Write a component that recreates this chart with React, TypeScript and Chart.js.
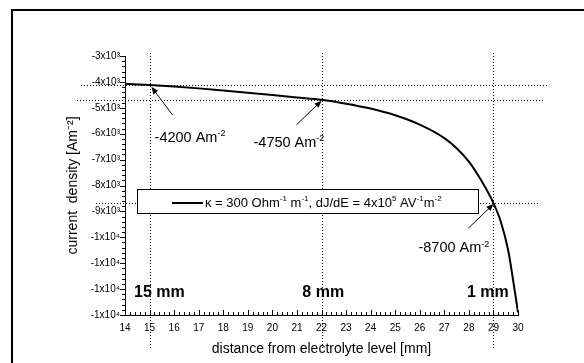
import React, { useEffect, useRef } from "react";
import { Chart, registerables } from "chart.js";

Chart.register(...registerables);

// ---- data ----
const distance = [14, 15, 16, 17, 18, 19, 20, 21, 22, 23, 24, 25, 26, 27, 27.5, 28, 28.5, 29, 29.3, 29.6, 29.8, 30];
const currentDensity = [-4070, -4120, -4180, -4250, -4330, -4420, -4510, -4600, -4690, -4840, -5030, -5290, -5650, -6170, -6560, -7080, -7800, -8680, -9400, -10500, -11650, -12900];

const xTickValues = [14, 15, 16, 17, 18, 19, 20, 21, 22, 23, 24, 25, 26, 27, 28, 29, 30];
const xTickLabels = ["14", "15", "16", "17", "18", "19", "20", "21", "22", "23", "24", "25", "26", "27", "28", "29", "30"];
const yTickValues = [-3000, -4000, -5000, -6000, -7000, -8000, -9000, -10000, -11000, -12000, -13000];
const yTickLabels = ["-3x10³", "-4x10³", "-5x10³", "-6x10³", "-7x10³", "-8x10³", "-9x10³", "-1x10⁴", "-1x10⁴", "-1x10⁴", "-1x10⁴"];

const markerX = [15, 22, 29];
const markerY = [-4120, -4690, -8680];
const markerLabels = ["-4200 Am", "-4750 Am", "-8700 Am"];
const markerSup = "-2";

const depthLabels = ["15 mm", "8 mm", "1 mm"];
const depthLabelX = [14.37, 21.22, 27.92];
const depthLabelY = -12100;

const xTitle = "distance from electrolyte level [mm]";
const yTitle = "current  density [Am⁻²]";
const seriesLabel = "κ = 300 Ohm⁻¹ m⁻¹, dJ/dE = 4x10⁵ AV⁻¹m⁻²";
const legendParts: [string, boolean][] = [
  ["κ = 300 Ohm", false],
  ["-1", true],
  [" m", false],
  ["-1", true],
  [", dJ/dE = 4x10", false],
  ["5", true],
  [" AV", false],
  ["-1", true],
  ["m", false],
  ["-2", true],
];

const FAMILY = '"Liberation Sans", Arial, Helvetica, sans-serif';

function drawRich(ctx: CanvasRenderingContext2D, parts: [string, boolean][], x: number, cy: number, size: number, bold = false) {
  let cx = x;
  const base = cy + size * 0.36;
  ctx.textAlign = "left";
  ctx.textBaseline = "alphabetic";
  for (const [t, sup] of parts) {
    const s = sup ? size * 0.62 : size;
    ctx.font = `${bold ? "bold " : ""}${s}px ${FAMILY}`;
    ctx.fillText(t, cx, sup ? base - size * 0.4 : base);
    cx += ctx.measureText(t).width;
  }
  return cx;
}

function drawArrow(ctx: CanvasRenderingContext2D, x1: number, y1: number, x2: number, y2: number) {
  ctx.save();
  ctx.strokeStyle = "#000";
  ctx.fillStyle = "#000";
  ctx.lineWidth = 1;
  ctx.setLineDash([]);
  const a = Math.atan2(y2 - y1, x2 - x1);
  const hl = 7, hw = 3;
  ctx.beginPath();
  ctx.moveTo(x1, y1);
  ctx.lineTo(x2 - Math.cos(a) * hl * 0.8, y2 - Math.sin(a) * hl * 0.8);
  ctx.stroke();
  ctx.beginPath();
  ctx.moveTo(x2, y2);
  ctx.lineTo(x2 - hl * Math.cos(a) + hw * Math.sin(a), y2 - hl * Math.sin(a) - hw * Math.cos(a));
  ctx.lineTo(x2 - hl * Math.cos(a) - hw * Math.sin(a), y2 - hl * Math.sin(a) + hw * Math.cos(a));
  ctx.closePath();
  ctx.fill();
  ctx.restore();
}

const decorPlugin = {
  id: "decor",
  beforeDatasetsDraw(chart: any) {
    const ctx: CanvasRenderingContext2D = chart.ctx;
    const xs = chart.scales.x;
    const ys = chart.scales.y;
    const area = chart.chartArea;
    ctx.save();
    // outer frame
    ctx.strokeStyle = "#000";
    ctx.lineWidth = 2;
    ctx.strokeRect(12, 10, 900, 900);

    // dotted guide lines
    ctx.lineWidth = 1;
    ctx.setLineDash([1, 2]);
    ctx.strokeStyle = "#000";
    markerX.forEach((v) => {
      const px = Math.round(xs.getPixelForValue(v)) + 0.5;
      ctx.beginPath();
      ctx.moveTo(px, area.top - 3);
      ctx.lineTo(px, area.bottom + 33);
      ctx.stroke();
    });
    const hExt: [number, number][] = [[81, 548], [77, 544], [96, 538]];
    markerY.forEach((v, i) => {
      const py = Math.round(ys.getPixelForValue(v)) + 0.5;
      ctx.beginPath();
      ctx.moveTo(hExt[i][0], py);
      ctx.lineTo(hExt[i][1], py);
      ctx.stroke();
    });
    ctx.restore();
  },
  afterDatasetsDraw(chart: any) {
    const ctx: CanvasRenderingContext2D = chart.ctx;
    const xs = chart.scales.x;
    const ys = chart.scales.y;
    const area = chart.chartArea;
    ctx.save();
    ctx.setLineDash([]);
    ctx.strokeStyle = "#000";
    ctx.fillStyle = "#000";
    ctx.lineWidth = 1;

    // minor + major ticks on x (inward)
    for (let i = 0; i <= 80; i++) {
      const v = 14 + i * 0.2;
      const px = Math.round(xs.getPixelForValue(v)) + 0.5;
      const len = i % 5 === 0 ? 5 : 3;
      ctx.beginPath();
      ctx.moveTo(px, area.bottom);
      ctx.lineTo(px, area.bottom - len);
      ctx.stroke();
    }
    // y ticks (outward)
    for (let i = 0; i <= 50; i++) {
      const v = -13000 + i * 200;
      const py = Math.round(ys.getPixelForValue(v)) + 0.5;
      const len = i % 5 === 0 ? 5 : 3;
      ctx.beginPath();
      ctx.moveTo(area.left, py);
      ctx.lineTo(area.left - len, py);
      ctx.stroke();
    }

    // legend box
    const bx = 137.5, by = 189.5, bw = 341, bh = 24;
    ctx.fillStyle = "#fff";
    ctx.fillRect(bx, by, bw, bh);
    ctx.strokeStyle = "#000";
    ctx.lineWidth = 1;
    ctx.strokeRect(bx, by, bw, bh);
    const ds = chart.data.datasets[0];
    ctx.strokeStyle = ds.borderColor;
    ctx.lineWidth = ds.borderWidth;
    ctx.beginPath();
    ctx.moveTo(172, 203);
    ctx.lineTo(203, 203);
    ctx.stroke();
    ctx.fillStyle = "#000";
    drawRich(ctx, legendParts, 205, 202, 13);

    // marker annotations
    const textOff: [number, number][] = [[5, 52], [-68, 42], [-75, 44]];
    const tailOff: [number, number][] = [[23, 30], [-25, 25], [-25, 25]];
    const tipOff: [number, number][] = [[2, 2], [0, 1], [0, 1]];
    markerX.forEach((v, i) => {
      const px = xs.getPixelForValue(v);
      const py = ys.getPixelForValue(markerY[i]);
      ctx.fillStyle = "#000";
      drawRich(ctx, [[markerLabels[i], false], [markerSup, true]], px + textOff[i][0], py + textOff[i][1], 14.5);
      drawArrow(ctx, px + tailOff[i][0], py + tailOff[i][1], px + tipOff[i][0], py + tipOff[i][1]);
    });

    // depth labels
    depthLabels.forEach((t, i) => {
      const px = xs.getPixelForValue(depthLabelX[i]);
      const py = ys.getPixelForValue(depthLabelY);
      ctx.fillStyle = "#000";
      drawRich(ctx, [[t, false]], px, py, 16, true);
    });
    ctx.restore();
  },
};

export default function App() {
  const ref = useRef<HTMLCanvasElement | null>(null);
  useEffect(() => {
    if (!ref.current) return;
    const chart = new Chart(ref.current, {
      type: "line",
      data: {
        datasets: [
          {
            label: seriesLabel,
            data: distance.map((x, i) => ({ x, y: currentDensity[i] })),
            borderColor: "#000",
            borderWidth: 2,
            pointRadius: 0,
            fill: false,
            cubicInterpolationMode: "monotone",
          },
        ],
      },
      options: {
        responsive: false,
        animation: false,
        devicePixelRatio: 1,
        layout: { padding: { top: 56, right: 66, bottom: 0, left: 0 } },
        plugins: { legend: { display: false }, tooltip: { enabled: false } },
        scales: {
          x: {
            type: "linear",
            min: 14,
            max: 30,
            afterFit: (s: any) => {
              s.height = 48;
            },
            afterBuildTicks: (s: any) => {
              s.ticks = xTickValues.map((v) => ({ value: v }));
            },
            grid: { display: false, drawTicks: false },
            border: { display: true, color: "#000", width: 1 },
            ticks: {
              padding: 7,
              color: "#000",
              maxRotation: 0,
              autoSkip: false,
              font: { family: FAMILY, size: 10 },
              callback: (v: any) => {
                const i = xTickValues.indexOf(Number(v));
                return i >= 0 ? xTickLabels[i] : "";
              },
            },
            title: {
              display: true,
              text: xTitle,
              color: "#000",
              font: { family: FAMILY, size: 14 },
              padding: { top: 0, bottom: 5 },
            },
          },
          y: {
            type: "linear",
            min: -13000,
            max: -3000,
            afterFit: (s: any) => {
              s.width = 125;
            },
            afterBuildTicks: (s: any) => {
              s.ticks = yTickValues.slice().reverse().map((v) => ({ value: v }));
            },
            grid: { display: false, drawTicks: false },
            border: { display: true, color: "#000", width: 1 },
            ticks: {
              padding: 5,
              color: "#000",
              autoSkip: false,
              font: { family: FAMILY, size: 10 },
              callback: (v: any) => {
                const i = yTickValues.indexOf(Number(v));
                return i >= 0 ? yTickLabels[i] : "";
              },
            },
            title: {
              display: true,
              text: yTitle,
              color: "#000",
              font: { family: FAMILY, size: 14 },
              padding: { top: 65, bottom: 0 },
            },
          },
        },
      },
      plugins: [decorPlugin],
    } as any);
    return () => chart.destroy();
  }, []);
  return (
    <div style={{ position: "fixed", left: 0, top: 0, width: 584, height: 363, background: "#fff" }}>
      <canvas ref={ref} width={584} height={363} style={{ display: "block" }} />
    </div>
  );
}
